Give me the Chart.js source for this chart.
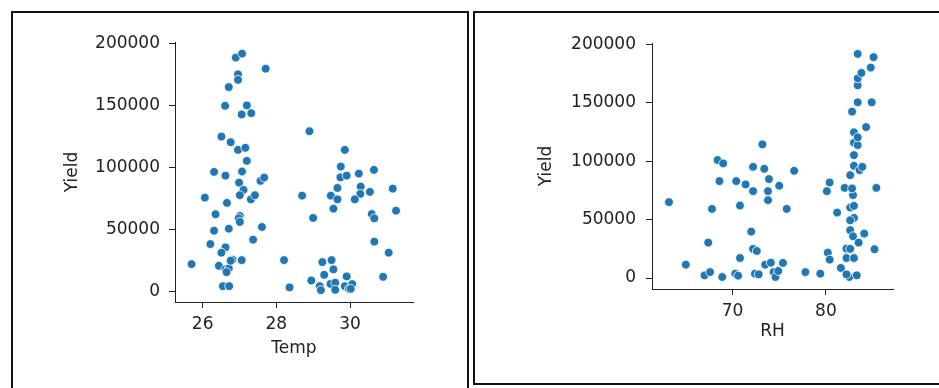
<!DOCTYPE html>
<html>
<head>
<meta charset="utf-8">
<script src="https://cdn.jsdelivr.net/npm/chart.js@4.4.0/dist/chart.umd.min.js"></script>
<style>
  html, body { margin: 0; padding: 0; background: #fff; overflow: hidden; }
  body { width: 939px; height: 388px; position: relative; }
  .box { position: absolute; border: 2px solid #111; box-sizing: border-box; }
  #leftBox { left: 11px; top: 11px; width: 458px; height: 400px; }
  #rightBox { left: 473px; top: 11px; width: 500px; height: 374px; }
  .wrap { position: absolute; top: 0; height: 388px; }
  #leftWrap { left: 0; width: 470px; }
  #rightWrap { left: 470px; width: 469px; }
</style>
</head>
<body>
<div class="box" id="leftBox"></div>
<div class="box" id="rightBox"></div>
<div class="wrap" id="leftWrap"><canvas id="tempChart" width="470" height="388"></canvas></div>
<div class="wrap" id="rightWrap"><canvas id="rhChart" width="469" height="388"></canvas></div>
<script>
// Temp vs Yield
const tempValues = [
  25.70, 26.06, 26.35, 26.31, 26.21, 26.31, 26.51, 26.61, 26.71, 26.90,
  27.07, 26.96, 26.96, 27.20, 27.06, 27.32, 27.71, 26.76, 26.96, 27.16,
  27.20, 26.62, 27.07, 26.99, 27.11, 27.01, 27.31, 27.42, 27.57, 27.67,
  26.66, 27.01, 26.98, 27.01, 26.71, 27.61, 27.37, 26.62, 26.51, 26.44,
  26.62, 26.71, 26.81, 27.06, 26.76, 26.55, 26.72, 26.65, 28.21, 28.36,
  28.70, 28.90, 29.00, 28.95, 29.18, 29.21, 29.25, 29.30, 29.50, 29.55,
  29.47, 29.60, 29.60, 29.91, 29.86, 29.97, 30.06, 30.02, 29.48, 29.66,
  29.66, 29.55, 29.75, 29.86, 29.74, 29.91, 30.24, 30.29, 30.28, 30.13,
  30.54, 30.65, 30.59, 30.66, 30.66, 31.05, 30.90, 31.16, 31.25
];
const tempYield = [
  21900, 75700, 62200, 48900, 38100, 96500, 125100, 150000, 165100, 189000,
  192200, 175400, 171000, 150300, 143000, 144000, 180000, 120500, 114300, 116000,
  105400, 93500, 96800, 87800, 81900, 77600, 74300, 77600, 89200, 91900,
  71400, 60800, 58900, 56000, 50500, 51900, 41600, 35400, 31100, 20500,
  17600, 18400, 25400, 25100, 24600, 4000, 4000, 15400, 25100, 3000,
  77300, 129400, 59200, 8600, 4000, 800, 23500, 13200, 25100, 17600,
  5900, 6800, 1100, 11900, 4000, 1900, 5700, 1900, 77300, 83500,
  74300, 66700, 100800, 114300, 92100, 93500, 95100, 84600, 78700, 74300,
  80300, 98100, 62400, 58900, 40000, 31100, 11600, 82900, 65100
];

// RH vs Yield
const rhValues = [
  63.2, 65.0, 67.0, 67.6, 67.4, 67.8, 68.4, 69.0, 68.6, 68.9,
  70.3, 70.6, 70.4, 70.8, 70.8, 71.4, 72.2, 72.2, 72.0, 72.2,
  72.6, 72.4, 72.8, 73.2, 73.4, 73.9, 73.8, 73.8, 75.0, 75.8,
  76.6, 73.5, 74.1, 74.4, 74.6, 74.9, 75.4, 77.8, 79.4, 80.1,
  80.4, 80.2, 80.4, 81.2, 81.6, 82.0, 82.2, 82.2, 82.5, 82.2,
  83.3, 82.6, 82.6, 82.9, 83.5, 83.0, 84.1, 85.2, 85.4, 82.6,
  83.0, 82.6, 83.0, 82.9, 82.8, 82.6, 83.0, 83.6, 83.9, 83.0,
  83.0, 83.4, 83.0, 83.4, 84.3, 82.8, 83.4, 84.9, 83.4, 83.4,
  83.8, 84.8, 83.4, 85.1
];
const rhYield = [
  64900, 11400, 2300, 5100, 30300, 59100, 100900, 98000, 82900, 860,
  3700, 2000, 82900, 62000, 17100, 80000, 74300, 95100, 39700, 24900,
  23100, 3700, 3100, 114300, 93400, 84600, 74300, 66600, 78900, 59100,
  91700, 11400, 13100, 5100, 860, 6000, 12900, 5100, 3700, 74300,
  81700, 21700, 15700, 56000, 8600, 77100, 25100, 17100, 860, 3100,
  2300, 40900, 24900, 35700, 30300, 17100, 38000, 24600, 77100, 60300,
  51400, 49400, 61700, 70900, 76600, 88000, 96000, 92300, 95100, 105100,
  115700, 113700, 124600, 120300, 129100, 142300, 150300, 150300, 164800, 170800,
  175400, 180000, 191700, 188900
];

// ticks
const yieldTicks = [0, 50000, 100000, 150000, 200000];
const tempTicks = [26, 28, 30];
const rhTicks = [70, 80];

const FONT = { family: 'DejaVu Sans', size: 17 };
const INK = '#222';

function toPoints(xs, ys) {
  return xs.map((x, i) => ({ x: x, y: ys[i] }));
}

function makeScatter(canvasId, xs, ys, cfg) {
  const ctx = document.getElementById(canvasId);
  return new Chart(ctx, {
    type: 'scatter',
    data: {
      datasets: [{
        data: toPoints(xs, ys),
        backgroundColor: '#1f77b4',
        borderColor: '#ffffff',
        borderWidth: 0.8,
        pointRadius: 4.4
      }]
    },
    options: {
      responsive: false,
      animation: false,
      layout: { padding: cfg.padding },
      plugins: { legend: { display: false }, tooltip: { enabled: false } },
      scales: {
        x: {
          type: 'linear',
          min: cfg.xMin,
          max: cfg.xMax,
          afterBuildTicks: axis => { axis.ticks = cfg.xTicks.map(v => ({ value: v })); },
          afterFit: axis => { axis.height = 60; },
          grid: { drawOnChartArea: false, drawTicks: true, tickLength: 6, tickColor: INK },
          border: { display: true, color: INK, width: 1 },
          ticks: { font: FONT, color: INK, padding: 6, maxRotation: 0, callback: v => String(v) },
          title: { display: true, text: cfg.xTitle, font: FONT, color: INK, padding: { top: 0, bottom: cfg.xTitlePad } }
        },
        y: {
          type: 'linear',
          min: cfg.yMin,
          max: cfg.yMax,
          afterBuildTicks: axis => { axis.ticks = yieldTicks.map(v => ({ value: v })); },
          afterFit: axis => { axis.width = cfg.yWidth; },
          grid: { drawOnChartArea: false, drawTicks: true, tickLength: 6, tickColor: INK },
          border: { display: true, color: INK, width: 1 },
          ticks: { font: FONT, color: INK, padding: cfg.yTickPad, callback: v => String(v) },
          title: { display: true, text: 'Yield', font: FONT, color: INK, padding: { top: 12, bottom: 0 } }
        }
      }
    }
  });
}

makeScatter('tempChart', tempValues, tempYield, {
  padding: { left: 50, top: 42, right: 57, bottom: 26 },
  xMin: 25.25, xMax: 31.71, yMin: -8800, yMax: 201600,
  xTicks: tempTicks, xTitle: 'Temp', xTitlePad: 3,
  yWidth: 125, yTickPad: 9
});

makeScatter('rhChart', rhValues, rhYield, {
  padding: { left: 54, top: 43, right: 46, bottom: 39 },
  xMin: 61.38, xMax: 87.18, yMin: -9400, yMax: 201000,
  xTicks: rhTicks, xTitle: 'RH', xTitlePad: 7,
  yWidth: 128, yTickPad: 10
});
</script>
</body>
</html>
